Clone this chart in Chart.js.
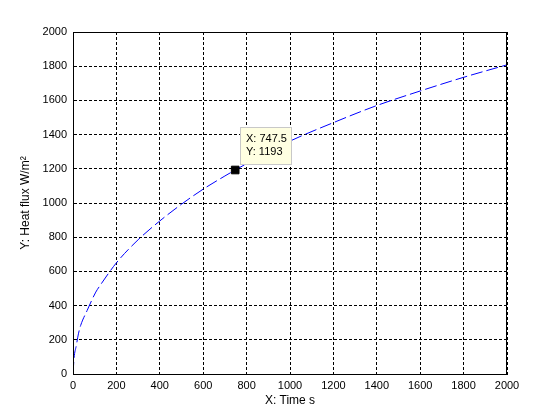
<!DOCTYPE html>
<html>
<head>
<meta charset="utf-8">
<script src="https://cdn.jsdelivr.net/npm/chart.js@4/dist/chart.umd.min.js"></script>
<style>
  html, body { margin: 0; padding: 0; background: #ffffff; }
  #wrap { width: 560px; height: 420px; }
</style>
</head>
<body>
<div id="wrap"><canvas id="c" width="560" height="420"></canvas></div>
<script>
// ---- data ----
const timeValues = [0, 5, 15, 25, 35, 65, 105, 125, 200, 300, 400, 500, 600, 700, 747.5, 800, 900, 1000, 1200, 1400, 1600, 1800, 2000];
const fluxValues = [0, 95, 165, 235, 283, 371, 479, 518, 650, 785, 895, 993, 1081, 1158, 1193, 1230, 1297, 1362, 1470, 1570, 1655, 1735, 1808];
const tipX = [747.5];
const tipY = [1193];
const xTickValues = [0, 200, 400, 600, 800, 1000, 1200, 1400, 1600, 1800, 2000];
const yTickValues = [0, 200, 400, 600, 800, 1000, 1200, 1400, 1600, 1800, 2000];
const xTitle = 'X: Time s';
const yTitle = 'Y: Heat flux W/m\u00B2';

const FONT = '"Liberation Sans", Arial, sans-serif';

const curve = timeValues.map((t, i) => ({ x: t, y: fluxValues[i] }));
const tip = tipX.map((t, i) => ({ x: t, y: tipY[i] }));

const framePlugin = {
  id: 'frame',
  afterDraw(chart) {
    const { ctx, chartArea: a } = chart;
    ctx.save();
    ctx.strokeStyle = '#000';
    ctx.lineWidth = 1;
    ctx.strokeRect(Math.round(a.left) + 0.5, Math.round(a.top) + 0.5,
                   Math.round(a.right - a.left) - 1, Math.round(a.bottom - a.top));
    ctx.restore();
  }
};

const dataTipPlugin = {
  id: 'datatip',
  afterDraw(chart) {
    const { ctx } = chart;
    const xs = chart.scales.x, ys = chart.scales.y;
    tip.forEach(p => {
      const px = Math.round(xs.getPixelForValue(p.x));
      const py = Math.round(ys.getPixelForValue(p.y));
      const bx = px + 5, by = py - 43, bw = 52, bh = 38;
      ctx.save();
      ctx.fillStyle = '#ffffe1';
      ctx.fillRect(bx, by, bw, bh);
      ctx.strokeStyle = '#c8c8c8';
      ctx.lineWidth = 1;
      ctx.strokeRect(bx + 0.5, by + 0.5, bw - 1, bh - 1);
      ctx.fillStyle = '#000';
      ctx.font = '11px ' + FONT;
      ctx.textBaseline = 'middle';
      ctx.textAlign = 'left';
      ctx.fillText('X: ' + p.x, bx + 6, by + 12);
      ctx.fillText('Y: ' + p.y, bx + 6, by + 25);
      ctx.restore();
    });
  }
};

new Chart(document.getElementById('c'), {
  type: 'line',
  data: {
    datasets: [
      {
        data: curve,
        order: 2,
        borderColor: '#0000ff',
        borderWidth: 1,
        borderDash: [12, 4],
        pointRadius: 0,
        fill: false,
        cubicInterpolationMode: 'monotone'
      },
      {
        data: tip,
        order: 1,
        showLine: false,
        pointStyle: 'rect',
        pointRadius: 5.4,
        pointBackgroundColor: '#000',
        pointBorderColor: '#000',
        pointBorderWidth: 1
      }
    ]
  },
  options: {
    responsive: false,
    animation: false,
    devicePixelRatio: 1,
    layout: { padding: { left: 0, top: 32, right: 53, bottom: 0 } },
    plugins: { legend: { display: false }, tooltip: { enabled: false } },
    scales: {
      x: {
        type: 'linear',
        min: 0, max: 2000,
        afterFit(s) { s.height = 46; },
        afterBuildTicks(s) { s.ticks = xTickValues.map(v => ({ value: v })); },
        grid: { color: '#000', lineWidth: 1, drawTicks: false },
        border: { display: true, color: '#000', dash: [3, 2] },
        ticks: { color: '#000', padding: 5, maxRotation: 0, font: { family: FONT, size: 11 }, callback: v => String(v) },
        title: { display: true, text: xTitle, color: '#000', padding: { top: 0, bottom: 12 }, font: { family: FONT, size: 12 } }
      },
      y: {
        type: 'linear',
        min: 0, max: 2000,
        afterFit(s) { s.width = 73; },
        afterBuildTicks(s) { s.ticks = yTickValues.map(v => ({ value: v })); },
        grid: { color: '#000', lineWidth: 1, drawTicks: false },
        border: { display: true, color: '#000', dash: [3, 2] },
        ticks: { color: '#000', padding: 6, font: { family: FONT, size: 11 }, callback: v => String(v) },
        title: { display: true, text: yTitle, color: '#000', padding: { top: 18, bottom: 0 }, font: { family: FONT, size: 12 } }
      }
    }
  },
  plugins: [framePlugin, dataTipPlugin]
});
</script>
</body>
</html>
